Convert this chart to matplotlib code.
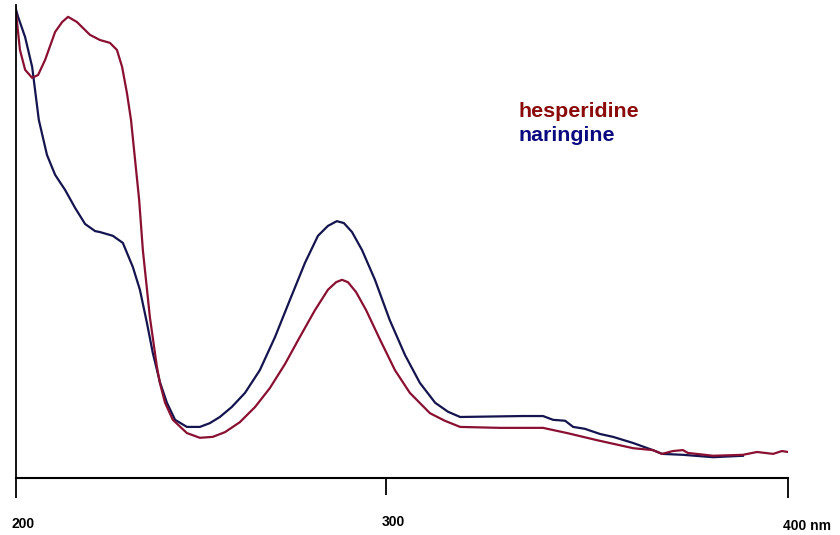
import numpy as np
import matplotlib.pyplot as plt
from matplotlib.transforms import blended_transform_factory

# wavelength (nm) and absorbance (arbitrary units)
hesp_nm = [200.0, 201.2, 202.6, 204.5, 206.1, 208.0, 210.7, 212.6, 214.2, 216.6,
           220.1, 222.8, 225.5, 227.4, 228.8, 230.1, 231.2, 233.4, 234.4, 236.3,
           238.2, 239.0, 240.4, 242.5, 246.3, 249.8, 253.3, 256.6, 260.6, 264.7,
           268.7, 272.8, 276.8, 280.9, 284.4, 286.6, 288.2, 289.8, 292.0, 294.7,
           298.5, 302.3, 306.0, 311.0, 314.7, 318.5, 328.4, 339.1, 345.1, 352.5,
           361.5, 366.4, 368.7, 371.4, 373.9, 375.1, 381.4, 388.8, 392.3, 396.3,
           398.5, 400.0]
hesp_abs = [0.994, 0.905, 0.863, 0.846, 0.852, 0.884, 0.943, 0.964, 0.975, 0.964,
            0.937, 0.926, 0.920, 0.905, 0.869, 0.814, 0.757, 0.588, 0.482, 0.340,
            0.235, 0.201, 0.159, 0.123, 0.095, 0.085, 0.087, 0.097, 0.118, 0.150,
            0.190, 0.241, 0.298, 0.355, 0.398, 0.414, 0.419, 0.414, 0.393, 0.355,
            0.292, 0.228, 0.180, 0.137, 0.121, 0.108, 0.106, 0.106, 0.095, 0.080,
            0.063, 0.059, 0.051, 0.057, 0.059, 0.053, 0.047, 0.049, 0.055, 0.051,
            0.057, 0.055]

nar_nm = [200.0, 200.7, 202.6, 204.5, 206.3, 208.5, 210.7, 213.4, 216.1, 218.8,
          221.5, 222.8, 226.3, 229.0, 231.7, 233.6, 235.5, 237.1, 239.0, 240.9,
          243.1, 246.3, 249.8, 252.5, 255.2, 258.4, 262.0, 266.0, 270.1, 274.1,
          278.2, 281.7, 284.4, 286.8, 288.7, 290.9, 293.6, 297.1, 301.0, 304.8,
          308.5, 312.3, 315.5, 318.5, 334.1, 339.1, 341.6, 344.6, 346.6, 349.5,
          353.3, 356.5, 361.5, 366.4, 368.7, 373.9, 381.4, 388.8]
nar_abs = [0.994, 0.975, 0.932, 0.869, 0.757, 0.683, 0.641, 0.609, 0.571, 0.537,
           0.522, 0.520, 0.512, 0.497, 0.446, 0.398, 0.328, 0.264, 0.203, 0.159,
           0.123, 0.108, 0.108, 0.116, 0.129, 0.150, 0.180, 0.228, 0.298, 0.376,
           0.455, 0.512, 0.533, 0.543, 0.539, 0.520, 0.482, 0.419, 0.334, 0.260,
           0.201, 0.159, 0.140, 0.129, 0.131, 0.131, 0.123, 0.121, 0.108, 0.104,
           0.093, 0.087, 0.074, 0.059, 0.051, 0.049, 0.044, 0.047]

tick_nm = [200, 300, 400]
tick_text = ['200', '300', '400 nm']

# the original axis is not quite linear: 200-300 is shorter than 300-400
axis_pos = [0, 370.2, 772.5]


def fwd(x):
    return np.interp(x, tick_nm, axis_pos)


def inv(p):
    return np.interp(p, axis_pos, tick_nm)


fig = plt.figure(figsize=(8.4, 5.35), dpi=100)
ax = fig.add_axes([15.5 / 840, 57 / 535, 772.5 / 840, 473 / 535])
ax.set_xscale('function', functions=(fwd, inv))

ax.plot(nar_nm, nar_abs, color='#14144f', lw=1.6)
ax.plot(hesp_nm, hesp_abs, color='#8a1032', lw=1.6)

ax.set_xlim(200, 400)
ax.set_ylim(0, 1.0)
ax.spines['top'].set_visible(False)
ax.spines['right'].set_visible(False)
ax.spines['bottom'].set_linewidth(1.5)
ax.spines['left'].set_linewidth(1.3)
ax.set_yticks([])
ax.set_xticks(tick_nm)
ax.set_xticklabels([])
ax.tick_params(axis='x', direction='out', length=14.5, width=1.3)
ax.xaxis.get_major_ticks()[1].tick1line.set_markersize(12)

tr = blended_transform_factory(ax.transData, ax.transAxes)
lab_font = dict(family='Liberation Sans', fontsize=10, fontweight='bold')
ax.text(202.0, -0.097, tick_text[0], transform=tr, ha='center', va='center', **lab_font)
ax.text(301.8, -0.094, tick_text[1], transform=tr, ha='center', va='center', **lab_font)
ax.text(398.8, -0.1015, tick_text[2], transform=tr, ha='left', va='center', **lab_font)

fig.text(518 / 840, (535 - 117) / 535, 'hesperidine', color='#8b0a0a',
         family='Liberation Sans', fontsize=15.4, fontweight='bold', va='baseline')
fig.text(518 / 840, (535 - 141) / 535, 'naringine', color='#0a0a80',
         family='Liberation Sans', fontsize=15.4, fontweight='bold', va='baseline')

fig.savefig('out.png', dpi=100)
